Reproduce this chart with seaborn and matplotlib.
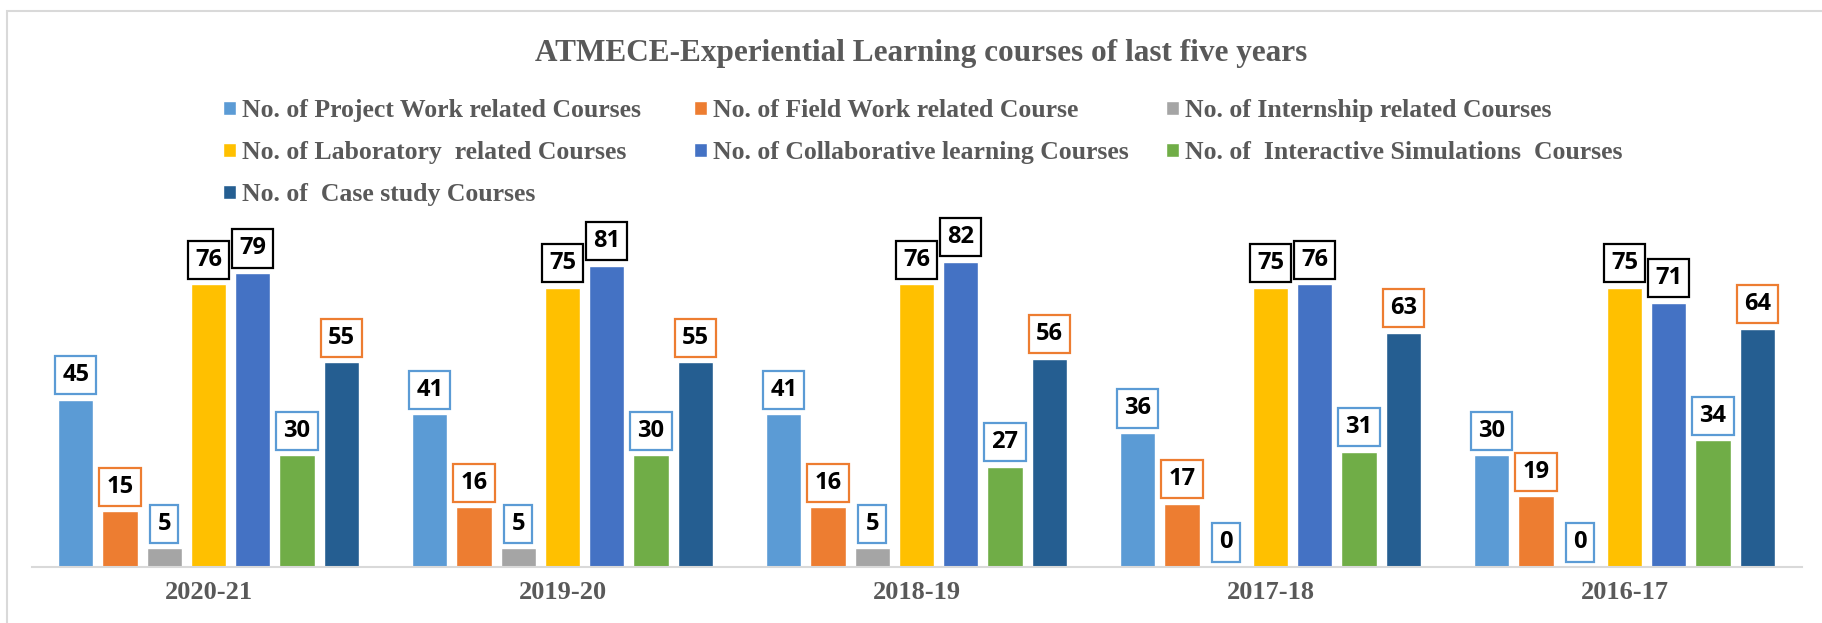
import numpy as np
import pandas as pd
import matplotlib
matplotlib.use("Agg")
import matplotlib.pyplot as plt
import matplotlib.patches as mpatches
import seaborn as sns

# ==========================================
# DATA
# ==========================================
years = ["2020-21", "2019-20", "2018-19", "2017-18", "2016-17"]
series = [
    "No. of Project Work related Courses",
    "No. of Field Work related Course",
    "No. of Internship related Courses",
    "No. of Laboratory  related Courses",
    "No. of Collaborative learning Courses",
    "No. of  Interactive Simulations  Courses",
    "No. of  Case study Courses",
]
project_work = [45, 41, 41, 36, 30]
field_work = [15, 16, 16, 17, 19]
internship = [5, 5, 5, 0, 0]
laboratory = [76, 75, 76, 75, 75]
collaborative = [79, 81, 82, 76, 71]
simulations = [30, 30, 27, 31, 34]
case_study = [55, 55, 56, 63, 64]

colors = ["#5B9BD5", "#ED7D31", "#A5A5A5", "#FFC000", "#4472C4", "#70AD47", "#255E91"]
box_colors = ["#5B9BD5", "#ED7D31", "#5B9BD5", "black", "black", "#5B9BD5", "#ED7D31"]

values = [project_work, field_work, internship, laboratory, collaborative, simulations, case_study]
rows = []
for s, vals in zip(series, values):
    for y, v in zip(years, vals):
        rows.append({"Year": y, "Series": s, "Count": v})
df = pd.DataFrame(rows)

# ==========================================
# PLOT
# ==========================================
sns.set_theme(style="white")
plt.rcParams["font.family"] = ["Liberation Serif", "DejaVu Serif"]

W, H = 1822, 623
fig = plt.figure(figsize=(W / 100, H / 100), dpi=100)
ax = fig.add_axes([31.5 / W, (H - 567) / H, 1770 / W, 335 / H])

sns.barplot(data=df, x="Year", y="Count", hue="Series", order=years, hue_order=series,
            palette=colors, width=0.875, gap=0.2, saturation=1, ax=ax)

handles, labels = ax.get_legend_handles_labels()
ax.get_legend().remove()

for i, cont in enumerate(ax.containers):
    ax.bar_label(cont, padding=9, fontsize=17, fontweight="bold", family="Open Sans", color="black",
                 bbox=dict(boxstyle="square,pad=0.3", fc="white", ec=box_colors[i], lw=1.6))

ax.set_xlim(-0.5, 4.5)
ax.set_ylim(0, 90)
ax.set_xlabel("")
ax.set_ylabel("")
ax.set_yticks([])
for side in ["top", "left", "right"]:
    ax.spines[side].set_visible(False)
ax.spines["bottom"].set_color("#D9D9D9")
ax.spines["bottom"].set_linewidth(1.5)
ax.tick_params(axis="x", length=0, pad=10)
for t in ax.get_xticklabels():
    t.set_fontsize(19)
    t.set_fontweight("bold")
    t.set_color("#595959")

# title
fig.text(921 / W, 1 - 53 / H, "ATMECE-Experiential Learning courses of last five years",
         ha="center", va="center", fontsize=22.5, fontweight="bold", color="#595959")

# legend, three equal-width columns
cols = [[0, 3, 6], [1, 4], [2, 5]]
col_x = [223, 694, 1166]
for idx, x in zip(cols, col_x):
    leg = fig.legend([handles[i] for i in idx], [labels[i] for i in idx],
                     loc="upper left", bbox_to_anchor=(x / W, 1 - 99 / H),
                     frameon=False, borderpad=0, borderaxespad=0,
                     handlelength=0.5, handleheight=0.5, handletextpad=0.25,
                     labelspacing=0.74, prop={"family": "Liberation Serif", "weight": "bold", "size": 18.5})
    for t in leg.get_texts():
        t.set_color("#595959")

# chart border
fig.patches.append(mpatches.Rectangle((7 / W, -0.1), 1.5, 1.1 - 11 / H, transform=fig.transFigure,
                                      fill=False, edgecolor="#D9D9D9", lw=1.5))

fig.savefig("out.png", dpi=100, facecolor="white")
